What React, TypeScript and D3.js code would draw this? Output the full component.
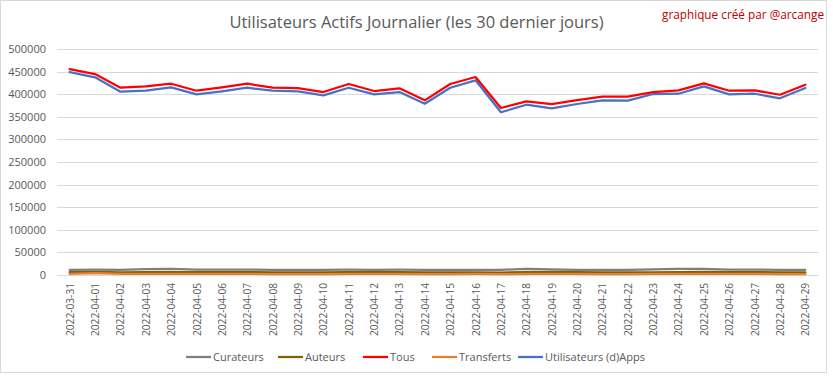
import React from "react";
import * as d3 from "d3";

const dates = [
  "2022-03-31","2022-04-01","2022-04-02","2022-04-03","2022-04-04","2022-04-05","2022-04-06","2022-04-07","2022-04-08","2022-04-09",
  "2022-04-10","2022-04-11","2022-04-12","2022-04-13","2022-04-14","2022-04-15","2022-04-16","2022-04-17","2022-04-18","2022-04-19",
  "2022-04-20","2022-04-21","2022-04-22","2022-04-23","2022-04-24","2022-04-25","2022-04-26","2022-04-27","2022-04-28","2022-04-29",
];
const tous = [
  455700, 444600, 414300, 417400, 423200, 407700, 415200, 423200, 414300, 413600,
  404800, 422500, 407000, 413000, 386400, 422500, 438000, 369400, 384200, 377800,
  387100, 394400, 394400, 404800, 408500, 424000, 407700, 408500, 398800, 421000,
];
const utilisateurs = [
  449000, 437300, 405500, 407700, 415200, 399700, 406400, 414300, 407700, 406400,
  397500, 414300, 399700, 404800, 379000, 414300, 430700, 360000, 376700, 368700,
  378300, 386400, 385600, 400400, 401000, 417400, 399700, 401000, 390900, 413600,
];
const curateurs = [
  11500, 11800, 11600, 13200, 13600, 12000, 11700, 11900, 11500, 11400,
  11200, 11800, 11600, 11700, 11300, 11500, 11600, 11400, 13600, 12200,
  11500, 11400, 11300, 12400, 13600, 13800, 11900, 11700, 11500, 11600,
];
const auteurs = [
  6200, 6800, 6000, 6100, 6500, 6300, 6100, 6400, 5900, 5800,
  5700, 6600, 6300, 6100, 5600, 5800, 5900, 5500, 6400, 6900,
  6200, 5800, 5700, 6000, 6500, 6800, 6200, 6300, 5900, 5800,
];
const transferts = [
  2600, 4300, 2400, 2300, 2500, 2400, 2300, 2500, 2200, 2200,
  2100, 2400, 2300, 2300, 2100, 2200, 2300, 2000, 2300, 2400,
  2300, 2200, 2100, 2300, 2400, 2500, 2300, 2300, 2200, 2200,
];
const yTicks = [0, 50000, 100000, 150000, 200000, 250000, 300000, 350000, 400000, 450000, 500000];

const series = [
  { name: "Curateurs", values: curateurs, color: "#7f7f7f" },
  { name: "Auteurs", values: auteurs, color: "#806000" },
  { name: "Transferts", values: transferts, color: "#ed7d31" },
  { name: "Utilisateurs (d)Apps", values: utilisateurs, color: "#4472c4" },
  { name: "Tous", values: tous, color: "#ff0000" },
];
const legendOrder = ["Curateurs", "Auteurs", "Tous", "Transferts", "Utilisateurs (d)Apps"];
const legendX = [186, 278, 363, 432, 518];

const W = 833, H = 379;
const plotL = 57, plotR = 818, plotT = 49, plotB = 275;
const font = "'Open Sans', sans-serif";

export default function App() {
  const x = d3.scaleBand<string>().domain(dates).range([plotL, plotR]);
  const y = d3.scaleLinear().domain([0, 500000]).range([plotB, plotT]);
  const cx = (d: string) => (x(d) as number) + x.bandwidth() / 2;
  const line = (vals: number[]) =>
    d3.line<number>().x((_, i) => cx(dates[i])).y((v) => y(v))(vals) as string;

  return (
    <svg width={W} height={H} style={{ position: "absolute", left: 0, top: 0, background: "#fff" }}>
      <rect x={0.5} y={0.5} width={826} height={372} fill="#fff" stroke="#d9d9d9" />
      <text x={416.5} y={28} textAnchor="middle" fontFamily={font} fontSize={17} fill="#595959"
        textLength={374} lengthAdjust="spacingAndGlyphs">
        Utilisateurs Actifs Journalier (les 30 dernier jours)
      </text>
      <text x={662} y={19} fontFamily={font} fontSize={12} fill="#c00000"
        textLength={162} lengthAdjust="spacingAndGlyphs">
        graphique créé par @arcange
      </text>
      {yTicks.map((t) => (
        <g key={t}>
          <line x1={plotL} x2={plotR} y1={Math.round(y(t)) + 0.5} y2={Math.round(y(t)) + 0.5} stroke="#d9d9d9" strokeWidth={1} />
          <text x={46} y={y(t) + 4} textAnchor="end" fontFamily={font} fontSize={11} fill="#595959">
            {t}
          </text>
        </g>
      ))}
      {dates.map((d) => (
        <text key={d} transform={`translate(${cx(d) + 4},${283}) rotate(-90)`} textAnchor="end"
          fontFamily={font} fontSize={11} fill="#595959" textLength={53} lengthAdjust="spacingAndGlyphs">
          {d}
        </text>
      ))}
      {series.map((s) => (
        <path key={s.name} d={line(s.values)} fill="none" stroke={s.color} strokeWidth={2.25}
          strokeLinejoin="round" strokeLinecap="round" />
      ))}
      {legendOrder.map((n, i) => {
        const s = series.find((q) => q.name === n)!;
        const lx = legendX[i];
        return (
          <g key={n}>
            <line x1={lx} x2={lx + 25} y1={357} y2={357} stroke={s.color} strokeWidth={2.25} />
            <text x={lx + 27} y={361} fontFamily={font} fontSize={11} fill="#595959">
              {n}
            </text>
          </g>
        );
      })}
    </svg>
  );
}
